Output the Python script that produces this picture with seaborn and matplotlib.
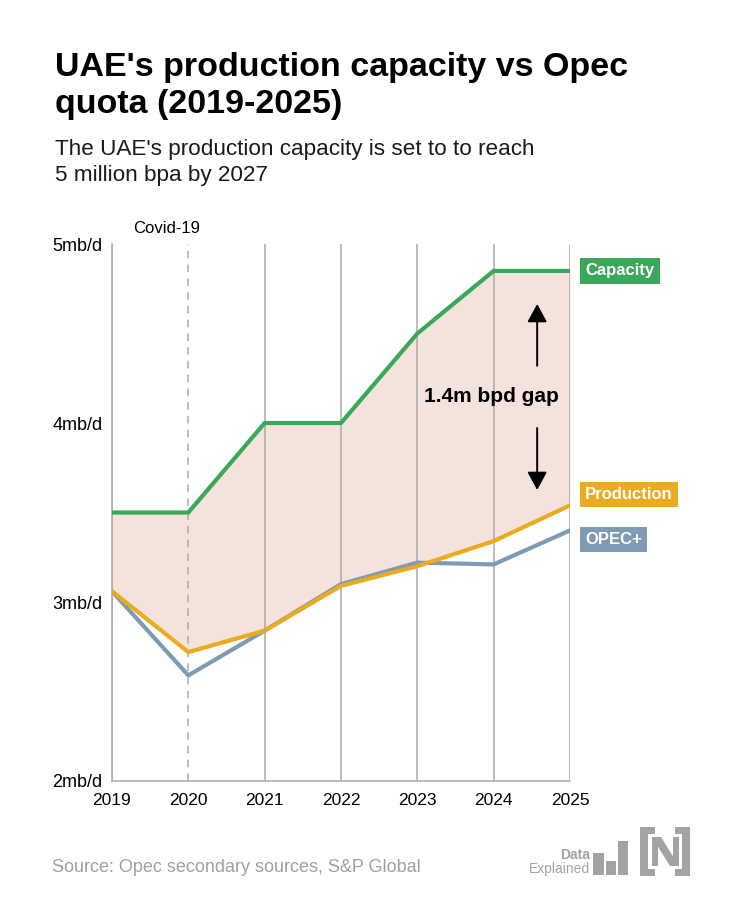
import matplotlib
matplotlib.use("Agg")
import matplotlib.pyplot as plt
from matplotlib.patches import Rectangle, Polygon
import seaborn as sns
import pandas as pd

years = [2019, 2020, 2021, 2022, 2023, 2024, 2025]
capacity = [3.50, 3.50, 4.00, 4.00, 4.50, 4.85, 4.85]
production = [3.06, 2.72, 2.84, 3.09, 3.20, 3.34, 3.54]
opec = [3.06, 2.59, 2.84, 3.10, 3.22, 3.21, 3.40]
ytick_vals = [2, 3, 4, 5]
ytick_labels = ["2mb/d", "3mb/d", "4mb/d", "5mb/d"]

GREEN = "#3aa75a"
ORANGE = "#eaab1f"
BLUE = "#7f9ab3"
FILL = "#f4e2dc"
GRID = "#ababab"

sns.set_style("white")
plt.rcParams["font.family"] = ["Liberation Sans", "DejaVu Sans"]
plt.rcParams["text.color"] = "black"
plt.rcParams["xtick.color"] = "black"
plt.rcParams["ytick.color"] = "black"

fig = plt.figure(figsize=(7.3, 9.13), dpi=100)
ax = fig.add_axes([0.1534, 0.1446, 0.6274, 0.5881])

df = pd.DataFrame({
    "year": years * 3,
    "value": capacity + production + opec,
    "series": ["Capacity"] * 7 + ["Production"] * 7 + ["OPEC+"] * 7,
})

ax.fill_between(years, production, capacity, color=FILL, lw=0, zorder=0)
for y in years:
    ax.axvline(y, color=GRID, lw=1.1, ls=(0, (5, 4)) if y == 2020 else "-", zorder=1)

sns.lineplot(data=df[df.series == "OPEC+"], x="year", y="value", color=BLUE, lw=3, ax=ax, zorder=3)
sns.lineplot(data=df[df.series == "Production"], x="year", y="value", color=ORANGE, lw=3, ax=ax, zorder=4)
sns.lineplot(data=df[df.series == "Capacity"], x="year", y="value", color=GREEN, lw=3, ax=ax, zorder=5)

ax.set_xlim(2019, 2025)
ax.set_ylim(2, 5)
ax.set_xlabel("")
ax.set_ylabel("")
ax.set_xticks(years)
ax.set_xticklabels([str(y) for y in years], fontsize=12.5)
ax.set_yticks(ytick_vals)
ax.set_yticklabels(ytick_labels, fontsize=13)
ax.tick_params(axis="both", length=5, width=1, color=GRID, labelcolor="black", pad=2)
ax.tick_params(axis="x", pad=4)
for s in ["top", "right"]:
    ax.spines[s].set_visible(False)
for s in ["left", "bottom"]:
    ax.spines[s].set_color(GRID)
    ax.spines[s].set_linewidth(1.1)

# labels
def label(y, text, color):
    ax.text(2025.2, y, text, color="white", fontsize=12, fontweight="bold", va="center", ha="left",
            bbox=dict(boxstyle="square,pad=0.32", fc=color, ec="none"), clip_on=False)

label(capacity[-1], "Capacity", GREEN)
label(3.60, "Production", ORANGE)
label(3.35, "OPEC+", BLUE)

ax.text(2019.72, 5.085, "Covid-19", ha="center", va="center", fontsize=12, clip_on=False)
ax.text(2023.97, 4.15, "1.4m bpd gap", ha="center", va="center", fontsize=15, fontweight="bold", zorder=6)
astyle = dict(arrowstyle="-|>,head_length=0.55,head_width=0.3", color="black", lw=1.4,
              mutation_scale=20, shrinkA=0, shrinkB=0)
ax.annotate("", xy=(2024.57, 4.665), xytext=(2024.57, 4.32), arrowprops=astyle, zorder=6)
ax.annotate("", xy=(2024.57, 3.626), xytext=(2024.57, 3.972), arrowprops=astyle, zorder=6)

# titles
fig.text(55 / 730, 1 - 76 / 913, "UAE's production capacity vs Opec",
         fontsize=24.5, fontweight="bold", ha="left", va="baseline", color="black")
fig.text(55 / 730, 1 - 113 / 913, "quota (2019-2025)",
         fontsize=24.5, fontweight="bold", ha="left", va="baseline", color="black")
fig.text(55 / 730, 1 - 155 / 913, "The UAE's production capacity is set to to reach",
         fontsize=16.2, ha="left", va="baseline", color="#1a1a1a")
fig.text(55 / 730, 1 - 181 / 913, "5 million bpa by 2027",
         fontsize=16.2, ha="left", va="baseline", color="#1a1a1a")

fig.text(52 / 730, 1 - 872 / 913, "Source: Opec secondary sources, S&P Global",
         fontsize=13, color="#a0a0a0", ha="left", va="baseline")

# logo
LOGO = "#a3a3a3"
fig.text(590 / 730, 1 - 859 / 913, "Data", fontsize=10, fontweight="bold", color=LOGO, ha="right", va="baseline")
fig.text(590 / 730, 1 - 873 / 913, "Explained", fontsize=10, color=LOGO, ha="right", va="baseline")

def fr(x0, y0, w, h):
    fig.patches.append(Rectangle((x0 / 730, 1 - (y0 + h) / 913), w / 730, h / 913,
                                 transform=fig.transFigure, fc=LOGO, ec="none"))

for (x0, y0, w, h) in [(593, 853, 11, 22), (606, 861, 10, 14), (618, 841, 10, 34)]:
    fr(x0, y0, w, h)
# bracketed N
fr(640, 827, 8, 49)
fr(640, 827, 15, 7)
fr(640, 869, 15, 7)
fr(682, 827, 8, 49)
fr(675, 827, 15, 7)
fr(675, 869, 15, 7)
fig.patches.append(Polygon([(652 / 730, 1 - 837 / 913), (661 / 730, 1 - 837 / 913), (679 / 730, 1 - 866 / 913),
                            (670 / 730, 1 - 866 / 913)], closed=True, transform=fig.transFigure, fc=LOGO, ec="none"))
fr(652, 837, 6, 29)
fr(673, 837, 6, 29)

fig.savefig("out.png", dpi=100)
